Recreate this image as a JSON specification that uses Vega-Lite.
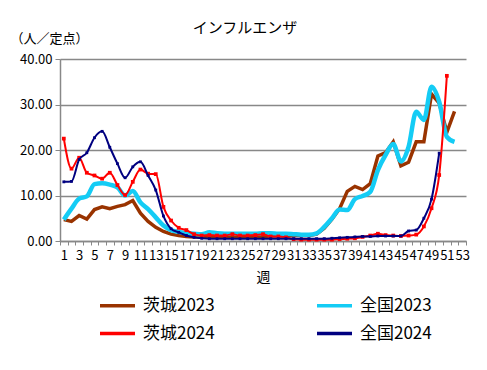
{
  "$schema": "https://vega.github.io/schema/vega-lite/v6.json",
  "width": 406,
  "height": 182,
  "autosize": {"type": "none"},
  "padding": {"left": 60, "top": 59, "right": 21, "bottom": 129},
  "background": "white",
  "config": {
    "font": "Noto Sans CJK JP",
    "view": {"stroke": null},
    "axis": {"labelFont": "Noto Sans CJK JP", "titleFont": "Noto Sans CJK JP", "labelColor": "#000", "titleColor": "#000", "titleFontWeight": "normal"},
    "legend": {"labelFont": "Noto Sans CJK JP"}
  },
  "title": {"text": "インフルエンザ", "fontSize": 15, "fontWeight": "normal", "font": "Noto Sans CJK JP", "anchor": "middle", "dx": -18, "offset": -4, "color": "#000"},
  "datasets": {
    "d": [
      {"week": 1, "series": "茨城2023", "value": 4.7}, {"week": 2, "series": "茨城2023", "value": 4.3}, {"week": 3, "series": "茨城2023", "value": 5.6}, {"week": 4, "series": "茨城2023", "value": 4.8}, {"week": 5, "series": "茨城2023", "value": 6.9}, {"week": 6, "series": "茨城2023", "value": 7.5}, {"week": 7, "series": "茨城2023", "value": 7.1}, {"week": 8, "series": "茨城2023", "value": 7.6}, {"week": 9, "series": "茨城2023", "value": 8.0}, {"week": 10, "series": "茨城2023", "value": 8.9},
      {"week": 11, "series": "茨城2023", "value": 6.1}, {"week": 12, "series": "茨城2023", "value": 4.3}, {"week": 13, "series": "茨城2023", "value": 3.0}, {"week": 14, "series": "茨城2023", "value": 2.1}, {"week": 15, "series": "茨城2023", "value": 1.5}, {"week": 16, "series": "茨城2023", "value": 1.2}, {"week": 17, "series": "茨城2023", "value": 1.0}, {"week": 18, "series": "茨城2023", "value": 0.9}, {"week": 19, "series": "茨城2023", "value": 0.9}, {"week": 20, "series": "茨城2023", "value": 0.9},
      {"week": 21, "series": "茨城2023", "value": 0.9}, {"week": 22, "series": "茨城2023", "value": 0.9}, {"week": 23, "series": "茨城2023", "value": 0.9}, {"week": 24, "series": "茨城2023", "value": 0.9}, {"week": 25, "series": "茨城2023", "value": 1.0}, {"week": 26, "series": "茨城2023", "value": 1.0}, {"week": 27, "series": "茨城2023", "value": 1.0}, {"week": 28, "series": "茨城2023", "value": 1.1}, {"week": 29, "series": "茨城2023", "value": 1.1}, {"week": 30, "series": "茨城2023", "value": 1.1},
      {"week": 31, "series": "茨城2023", "value": 1.2}, {"week": 32, "series": "茨城2023", "value": 1.2}, {"week": 33, "series": "茨城2023", "value": 1.2}, {"week": 34, "series": "茨城2023", "value": 1.5}, {"week": 35, "series": "茨城2023", "value": 2.8}, {"week": 36, "series": "茨城2023", "value": 4.8}, {"week": 37, "series": "茨城2023", "value": 7.1}, {"week": 38, "series": "茨城2023", "value": 10.9}, {"week": 39, "series": "茨城2023", "value": 12.0}, {"week": 40, "series": "茨城2023", "value": 11.3},
      {"week": 41, "series": "茨城2023", "value": 12.6}, {"week": 42, "series": "茨城2023", "value": 18.7}, {"week": 43, "series": "茨城2023", "value": 19.4}, {"week": 44, "series": "茨城2023", "value": 21.8}, {"week": 45, "series": "茨城2023", "value": 16.5}, {"week": 46, "series": "茨城2023", "value": 17.3}, {"week": 47, "series": "茨城2023", "value": 21.8}, {"week": 48, "series": "茨城2023", "value": 21.8}, {"week": 49, "series": "茨城2023", "value": 32.3}, {"week": 50, "series": "茨城2023", "value": 30.3},
      {"week": 51, "series": "茨城2023", "value": 23.9}, {"week": 52, "series": "茨城2023", "value": 28.5},

      {"week": 1, "series": "全国2023", "value": 4.7}, {"week": 2, "series": "全国2023", "value": 7.1}, {"week": 3, "series": "全国2023", "value": 9.3}, {"week": 4, "series": "全国2023", "value": 9.8}, {"week": 5, "series": "全国2023", "value": 12.5}, {"week": 6, "series": "全国2023", "value": 12.7}, {"week": 7, "series": "全国2023", "value": 12.4}, {"week": 8, "series": "全国2023", "value": 11.8}, {"week": 9, "series": "全国2023", "value": 10.0}, {"week": 10, "series": "全国2023", "value": 11.0},
      {"week": 11, "series": "全国2023", "value": 8.5}, {"week": 12, "series": "全国2023", "value": 7.0}, {"week": 13, "series": "全国2023", "value": 5.2}, {"week": 14, "series": "全国2023", "value": 3.4}, {"week": 15, "series": "全国2023", "value": 2.4}, {"week": 16, "series": "全国2023", "value": 2.0}, {"week": 17, "series": "全国2023", "value": 1.7}, {"week": 18, "series": "全国2023", "value": 1.6}, {"week": 19, "series": "全国2023", "value": 1.5}, {"week": 20, "series": "全国2023", "value": 1.9},
      {"week": 21, "series": "全国2023", "value": 1.7}, {"week": 22, "series": "全国2023", "value": 1.6}, {"week": 23, "series": "全国2023", "value": 1.6}, {"week": 24, "series": "全国2023", "value": 1.6}, {"week": 25, "series": "全国2023", "value": 1.6}, {"week": 26, "series": "全国2023", "value": 1.6}, {"week": 27, "series": "全国2023", "value": 1.7}, {"week": 28, "series": "全国2023", "value": 1.7}, {"week": 29, "series": "全国2023", "value": 1.6}, {"week": 30, "series": "全国2023", "value": 1.6},
      {"week": 31, "series": "全国2023", "value": 1.5}, {"week": 32, "series": "全国2023", "value": 1.4}, {"week": 33, "series": "全国2023", "value": 1.4}, {"week": 34, "series": "全国2023", "value": 1.7}, {"week": 35, "series": "全国2023", "value": 3.1}, {"week": 36, "series": "全国2023", "value": 5.0}, {"week": 37, "series": "全国2023", "value": 6.9}, {"week": 38, "series": "全国2023", "value": 6.8}, {"week": 39, "series": "全国2023", "value": 9.2}, {"week": 40, "series": "全国2023", "value": 9.9},
      {"week": 41, "series": "全国2023", "value": 10.8}, {"week": 42, "series": "全国2023", "value": 15.6}, {"week": 43, "series": "全国2023", "value": 18.9}, {"week": 44, "series": "全国2023", "value": 21.3}, {"week": 45, "series": "全国2023", "value": 17.5}, {"week": 46, "series": "全国2023", "value": 20.7}, {"week": 47, "series": "全国2023", "value": 28.4}, {"week": 48, "series": "全国2023", "value": 26.6}, {"week": 49, "series": "全国2023", "value": 33.9}, {"week": 50, "series": "全国2023", "value": 30.6},
      {"week": 51, "series": "全国2023", "value": 22.9}, {"week": 52, "series": "全国2023", "value": 21.8},

      {"week": 1, "series": "茨城2024", "value": 22.5}, {"week": 2, "series": "茨城2024", "value": 15.9}, {"week": 3, "series": "茨城2024", "value": 18.3}, {"week": 4, "series": "茨城2024", "value": 15.0}, {"week": 5, "series": "茨城2024", "value": 14.4}, {"week": 6, "series": "茨城2024", "value": 13.7}, {"week": 7, "series": "茨城2024", "value": 15.0}, {"week": 8, "series": "茨城2024", "value": 12.3}, {"week": 9, "series": "茨城2024", "value": 10.1}, {"week": 10, "series": "茨城2024", "value": 13.0},
      {"week": 11, "series": "茨城2024", "value": 15.7}, {"week": 12, "series": "茨城2024", "value": 14.8}, {"week": 13, "series": "茨城2024", "value": 14.7}, {"week": 14, "series": "茨城2024", "value": 7.5}, {"week": 15, "series": "茨城2024", "value": 4.5}, {"week": 16, "series": "茨城2024", "value": 2.9}, {"week": 17, "series": "茨城2024", "value": 2.4}, {"week": 18, "series": "茨城2024", "value": 1.5}, {"week": 19, "series": "茨城2024", "value": 1.2}, {"week": 20, "series": "茨城2024", "value": 1.3},
      {"week": 21, "series": "茨城2024", "value": 1.2}, {"week": 22, "series": "茨城2024", "value": 1.2}, {"week": 23, "series": "茨城2024", "value": 1.5}, {"week": 24, "series": "茨城2024", "value": 1.2}, {"week": 25, "series": "茨城2024", "value": 1.2}, {"week": 26, "series": "茨城2024", "value": 1.3}, {"week": 27, "series": "茨城2024", "value": 1.5}, {"week": 28, "series": "茨城2024", "value": 1.0}, {"week": 29, "series": "茨城2024", "value": 1.0}, {"week": 30, "series": "茨城2024", "value": 0.8},
      {"week": 31, "series": "茨城2024", "value": 0.4}, {"week": 32, "series": "茨城2024", "value": 0.3}, {"week": 33, "series": "茨城2024", "value": 0.3}, {"week": 34, "series": "茨城2024", "value": 0.3}, {"week": 35, "series": "茨城2024", "value": 0.3}, {"week": 36, "series": "茨城2024", "value": 0.3}, {"week": 37, "series": "茨城2024", "value": 0.4}, {"week": 38, "series": "茨城2024", "value": 0.5}, {"week": 39, "series": "茨城2024", "value": 0.6}, {"week": 40, "series": "茨城2024", "value": 0.9},
      {"week": 41, "series": "茨城2024", "value": 1.2}, {"week": 42, "series": "茨城2024", "value": 1.6}, {"week": 43, "series": "茨城2024", "value": 1.3}, {"week": 44, "series": "茨城2024", "value": 1.2}, {"week": 45, "series": "茨城2024", "value": 1.1}, {"week": 46, "series": "茨城2024", "value": 1.2}, {"week": 47, "series": "茨城2024", "value": 1.4}, {"week": 48, "series": "茨城2024", "value": 3.2}, {"week": 49, "series": "茨城2024", "value": 7.2}, {"week": 50, "series": "茨城2024", "value": 14.5},
      {"week": 51, "series": "茨城2024", "value": 36.3},

      {"week": 1, "series": "全国2024", "value": 13.0}, {"week": 2, "series": "全国2024", "value": 13.1}, {"week": 3, "series": "全国2024", "value": 17.9}, {"week": 4, "series": "全国2024", "value": 19.4}, {"week": 5, "series": "全国2024", "value": 22.7}, {"week": 6, "series": "全国2024", "value": 24.1}, {"week": 7, "series": "全国2024", "value": 20.6}, {"week": 8, "series": "全国2024", "value": 17.0}, {"week": 9, "series": "全国2024", "value": 13.9}, {"week": 10, "series": "全国2024", "value": 16.3},
      {"week": 11, "series": "全国2024", "value": 17.4}, {"week": 12, "series": "全国2024", "value": 14.4}, {"week": 13, "series": "全国2024", "value": 11.2}, {"week": 14, "series": "全国2024", "value": 5.5}, {"week": 15, "series": "全国2024", "value": 2.7}, {"week": 16, "series": "全国2024", "value": 1.9}, {"week": 17, "series": "全国2024", "value": 1.2}, {"week": 18, "series": "全国2024", "value": 0.8}, {"week": 19, "series": "全国2024", "value": 0.6}, {"week": 20, "series": "全国2024", "value": 0.5},
      {"week": 21, "series": "全国2024", "value": 0.5}, {"week": 22, "series": "全国2024", "value": 0.5}, {"week": 23, "series": "全国2024", "value": 0.5}, {"week": 24, "series": "全国2024", "value": 0.5}, {"week": 25, "series": "全国2024", "value": 0.5}, {"week": 26, "series": "全国2024", "value": 0.5}, {"week": 27, "series": "全国2024", "value": 0.5}, {"week": 28, "series": "全国2024", "value": 0.5}, {"week": 29, "series": "全国2024", "value": 0.5}, {"week": 30, "series": "全国2024", "value": 0.5},
      {"week": 31, "series": "全国2024", "value": 0.5}, {"week": 32, "series": "全国2024", "value": 0.5}, {"week": 33, "series": "全国2024", "value": 0.5}, {"week": 34, "series": "全国2024", "value": 0.5}, {"week": 35, "series": "全国2024", "value": 0.5}, {"week": 36, "series": "全国2024", "value": 0.6}, {"week": 37, "series": "全国2024", "value": 0.7}, {"week": 38, "series": "全国2024", "value": 0.8}, {"week": 39, "series": "全国2024", "value": 0.9}, {"week": 40, "series": "全国2024", "value": 1.0},
      {"week": 41, "series": "全国2024", "value": 1.0}, {"week": 42, "series": "全国2024", "value": 1.1}, {"week": 43, "series": "全国2024", "value": 1.1}, {"week": 44, "series": "全国2024", "value": 1.1}, {"week": 45, "series": "全国2024", "value": 1.1}, {"week": 46, "series": "全国2024", "value": 2.2}, {"week": 47, "series": "全国2024", "value": 2.4}, {"week": 48, "series": "全国2024", "value": 5.0}, {"week": 49, "series": "全国2024", "value": 9.2}, {"week": 50, "series": "全国2024", "value": 19.3}
    ]
  },
  "data": {"name": "d"},
  "encoding": {
    "x": {
      "field": "week", "type": "ordinal", "bandPosition": 0.5,
      "scale": {"type": "band", "paddingInner": 0, "paddingOuter": 0, "domain": [1,2,3,4,5,6,7,8,9,10,11,12,13,14,15,16,17,18,19,20,21,22,23,24,25,26,27,28,29,30,31,32,33,34,35,36,37,38,39,40,41,42,43,44,45,46,47,48,49,50,51,52,53]},
      "axis": {
        "title": "週", "titleFontSize": 14, "titleY": 36, "titleBaseline": "middle",
        "labelAngle": 0, "labelFontSize": 13, "labelOverlap": false, "labelPadding": 4,
        "labelExpr": "datum.value % 2 == 1 ? datum.label : ''",
        "tickBand": "extent", "tickSize": 4, "tickColor": "#888888", "domainColor": "#888888", "domainWidth": 1.5, "grid": false
      }
    },
    "y": {
      "field": "value", "type": "quantitative",
      "scale": {"domain": [0, 40], "nice": false},
      "axis": {
        "title": "（人／定点）", "titleAngle": 0, "titleAlign": "left", "titleBaseline": "middle", "titleX": -50, "titleY": -21, "titleFontSize": 13,
        "values": [0, 10, 20, 30, 40], "format": ".2f", "labelFontSize": 13, "labelPadding": 3,
        "tickSize": 5, "tickColor": "#888888", "domainColor": "#888888", "domainWidth": 1.5,
        "grid": true, "gridColor": "#888888", "gridWidth": 1.5
      }
    },
    "color": {
      "field": "series", "type": "nominal",
      "scale": {"domain": ["茨城2023", "茨城2024", "全国2023", "全国2024"], "range": ["#993300", "#FF0000", "#14CCF5", "#000080"]},
      "legend": {
        "title": null, "orient": "none", "legendX": 38, "legendY": 227, "columns": 2, "columnPadding": 95, "rowPadding": -3,
        "labelFontSize": 17, "labelColor": "#000", "labelOffset": 6,
        "symbolType": "stroke", "symbolSize": 1225, "symbolStrokeWidth": 3.5
      }
    }
  },
  "layer": [
    {"transform": [{"filter": "datum.series == '茨城2023'"}], "mark": {"type": "line", "strokeWidth": 3.5, "interpolate": "linear"}},
    {"transform": [{"filter": "datum.series == '全国2023'"}], "mark": {"type": "line", "strokeWidth": 4.5, "interpolate": "monotone"}},
    {"transform": [{"filter": "datum.series == '茨城2024'"}], "mark": {"type": "line", "strokeWidth": 2, "interpolate": "monotone"}},
    {"transform": [{"filter": "datum.series == '茨城2024'"}], "mark": {"type": "point", "shape": "square", "filled": true, "size": 14, "opacity": 1}},
    {"transform": [{"filter": "datum.series == '全国2024'"}], "mark": {"type": "line", "strokeWidth": 2, "interpolate": "monotone"}},
    {"transform": [{"filter": "datum.series == '全国2024'"}], "mark": {"type": "point", "shape": "square", "filled": true, "size": 8, "opacity": 1}}
  ]
}
